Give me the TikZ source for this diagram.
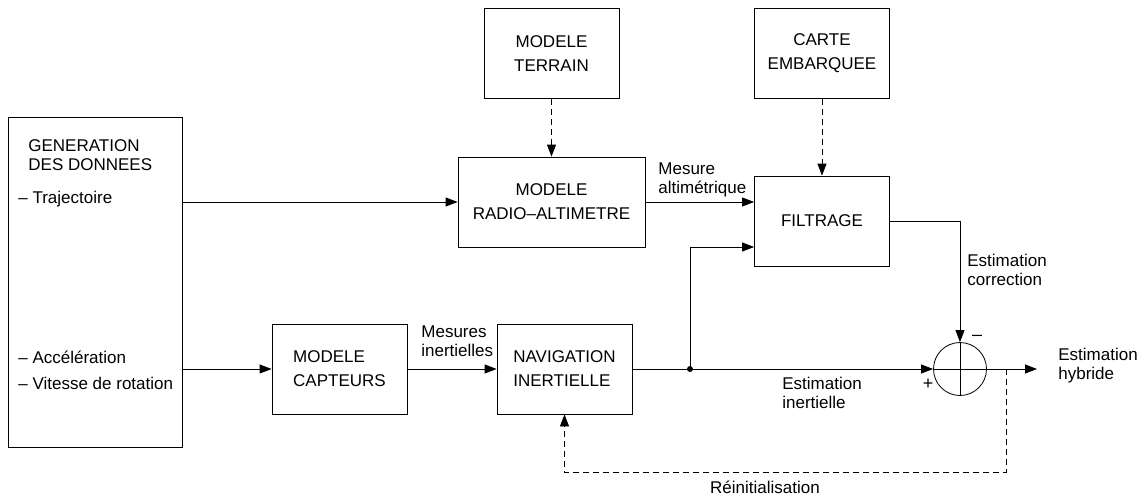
\documentclass[tikz,border=0pt]{standalone}
\usepackage{fontspec}
\setmainfont{Liberation Sans}
\usetikzlibrary{arrows.meta}
\begin{document}
\begin{tikzpicture}[x=1pt,y=-1pt,line width=0.8pt,>={Triangle[length=12pt,width=9pt]},
  bloc/.style={draw,minimum width=135pt,minimum height=90pt,align=center,font=\fontsize{17}{24}\selectfont},
  lab/.style={align=left,inner sep=0pt,font=\fontsize{17}{19}\selectfont},
  tiret/.style={dash pattern=on 6pt off 4pt}]
\useasboundingbox (0,0) rectangle (1141,498);
\node[draw,minimum width=174pt,minimum height=330pt](GEN)at(95,282){};
\node[lab,anchor=base west,font=\fontsize{17}{18.5}\selectfont]at(28,170){GENERATION\\DES DONNEES};
\node[lab,anchor=base west](TRA)at(18,203){– Trajectoire};
\node[lab,anchor=base west](ACC)at(18,363){– Accélération};
\node[lab,anchor=base west](VIT)at(18,389){– Vitesse de rotation};
\node[bloc](TER)at(551.5,53.5){MODELE\\TERRAIN};
\node[bloc](CAR)at(822,53.5){CARTE\\EMBARQUEE};
\node[bloc,minimum width=187pt](RAD)at(551.5,202){MODELE\\RADIO–ALTIMETRE};
\node[bloc](FIL)at(822,221){FILTRAGE};
\node[bloc,align=left](CAP)at(339.5,369){MODELE\\CAPTEURS};
\node[bloc,align=left](NAV)at(564.5,369){NAVIGATION\\INERTIELLE};
\node[draw,circle,minimum size=53pt,inner sep=0pt](SUM)at(960,369){};
\draw (SUM.north)--(SUM.south) (SUM.west)--(SUM.east);
\coordinate (J) at (690,369);
\coordinate (R) at (1006,369);
\coordinate (OUT) at (1037,369);
% liaisons
\draw[->](GEN.east|-RAD.west)--(RAD.west);
\draw[->](GEN.east|-CAP.west)--(CAP.west);
\draw[->,tiret](TER)--(RAD);
\draw[->,tiret](CAR)--(FIL);
\draw[->](RAD.east)--(RAD.east-|FIL.west);
\draw[->](CAP)--(NAV);
\draw[->](NAV)--(SUM);
\fill (J) circle (3pt);
\draw[->](J)|-([yshift=-26pt]FIL.west);
\draw[->](FIL.east)-|(SUM.north);
\draw[->](SUM.east)--(OUT);
\draw[->,tiret](R)--++(0,103)-|(NAV.south);
% textes
\node[lab,anchor=west]at(658,180){Mesure\\altimétrique};
\node[lab,anchor=west]at(421,341){Mesures\\inertielles};
\node[lab,anchor=west]at(782,393){Estimation\\inertielle};
\node[lab,anchor=west]at(967,270){Estimation\\correction};
\node[lab,anchor=west]at(1058,366){Estimation\\hybride};
\node[lab]at(765,487){Réinitialisation};
\node[font=\fontsize{18}{18}\selectfont,inner sep=0pt]at(977,338){–};
\node[font=\fontsize{18}{18}\selectfont,inner sep=0pt]at(928,384){+};
\end{tikzpicture}
\end{document}
